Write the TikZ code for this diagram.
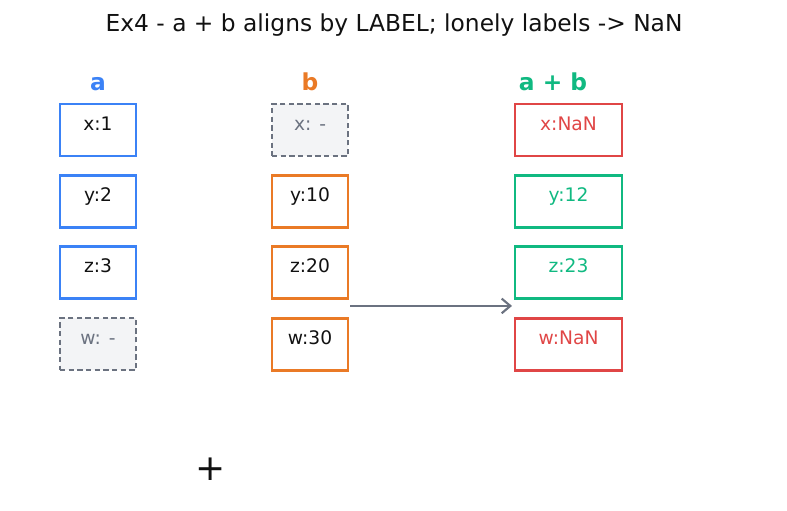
\documentclass[tikz,border=0pt]{standalone}
\usepackage{fontspec}
\setmainfont{DejaVu Sans}
\usetikzlibrary{positioning,arrows.meta}
\definecolor{ablue}{HTML}{3B82F6}
\definecolor{borange}{HTML}{EA7A26}
\definecolor{sgreen}{HTML}{10B981}
\definecolor{nanred}{HTML}{E04646}
\definecolor{miss}{HTML}{6B7280}
\definecolor{missfill}{HTML}{F3F4F6}
\definecolor{ink}{HTML}{111111}
\tikzset{
  cell/.style={draw, line width=2.2pt, inner sep=0pt, outer sep=0pt, minimum width=57pt,
    text height=19.5pt, text depth=19.5pt, text=ink, font=\fontsize{14}{16}\selectfont},
  acell/.style={cell, draw=ablue},
  bcell/.style={cell, draw=borange},
  goodcell/.style={cell, draw=sgreen, text=sgreen, minimum width=80.25pt},
  nancell/.style={cell, draw=nanred, text=nanred, minimum width=80.25pt},
  gone/.style={cell, draw=miss, fill=missfill, text=miss, dash pattern=on 4pt off 2.5pt, line width=1.4pt},
  head/.style={anchor=base, font=\fontsize{17.5}{20}\selectfont\bfseries}
}
\begin{document}
\begin{tikzpicture}[x=0.75pt, y=-0.75pt]
\useasboundingbox (0,0) rectangle (787,510);
\node[anchor=base, text=ink, font=\fontsize{17.5}{20}\selectfont] (title) at (394,32)
  {Ex4 - a + b aligns by LABEL; lonely labels -> NaN};
% series a
\node[head, text=ablue] (ha) at (98,90) {a};
\node[acell] (ax) at (98,130) {x:1};
\node[acell] (ay) [below=14.6pt of ax] {y:2};
\node[acell] (az) [below=14.6pt of ay] {z:3};
\node[gone] (aw) [below=14.6pt of az] {w: -};
% series b
\node[gone] (bx) [right=102pt of ax] {x: -};
\node[bcell] (by) [below=14.6pt of bx] {y:10};
\node[bcell] (bz) [below=14.6pt of by] {z:20};
\node[bcell] (bw) [below=14.6pt of bz] {w:30};
\node[head, text=borange] (hb) at (310,90) {b};
% a + b
\node[nancell] (sx) [right=125.25pt of bx] {x:NaN};
\node[goodcell] (sy) [below=14.6pt of sx] {y:12};
\node[goodcell] (sz) [below=14.6pt of sy] {z:23};
\node[nancell] (sw) [below=14.6pt of sz] {w:NaN};
\node[head, text=sgreen] (hs) at (553,90) {a + b};
\draw[miss, line width=1.6pt, -{Straight Barb[length=6.5pt, width=11pt]}]
  ([xshift=1.5pt, yshift=-5.25pt]bz.south east) -- ([xshift=-2.25pt, yshift=-5.25pt]sz.south west);
\node[text=ink, font=\fontsize{27}{29}\selectfont] (plus) at (211,469) {+};
\end{tikzpicture}
\end{document}
